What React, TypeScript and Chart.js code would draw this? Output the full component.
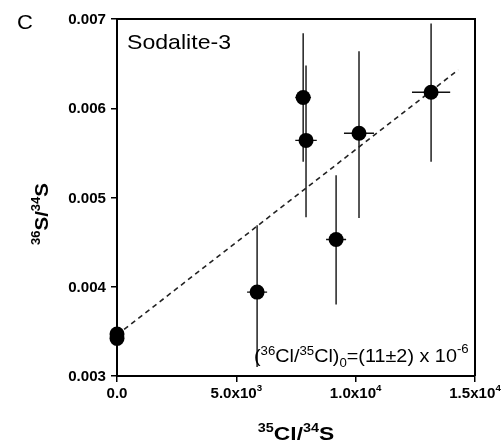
import React, { useEffect, useRef } from 'react';
import { Chart, registerables } from 'chart.js';

Chart.register(...registerables);

// ---- data ----
const sampleX = [0, 0, 5870, 7800, 7920, 9180, 10140, 13160];
const sampleY = [0.00347, 0.00342, 0.00394, 0.00612, 0.00564, 0.00453, 0.00572, 0.00618];
const xError = [0, 0, 420, 330, 450, 420, 630, 800];
const yLower = [0.00347, 0.00342, 0.0031, 0.0054, 0.00478, 0.0038, 0.00477, 0.0054];
const yUpper = [0.00347, 0.00342, 0.00469, 0.00684, 0.00648, 0.00525, 0.00664, 0.00695];
const fitX = [0, 14300];
const fitY = [0.00346, 0.00643];
const xTicks = [0, 5000, 10000, 15000];
const xTickBase = ['0.0', '5.0x10', '1.0x10', '1.5x10'];
const xTickExp = ['', '3', '4', '4'];
const yTicks = [0.003, 0.004, 0.005, 0.006, 0.007];
const yTickLabels = ['0.003', '0.004', '0.005', '0.006', '0.007'];

const FAMILY = '"Liberation Sans", Arial, Helvetica, sans-serif';

type Part = { t: string; size: number; bold?: boolean; dy?: number };

function fontOf(p: Part) {
  return `${p.bold ? 'bold ' : ''}${p.size}px ${FAMILY}`;
}

function drawParts(
  ctx: CanvasRenderingContext2D,
  parts: Part[],
  x: number,
  y: number,
  align: 'left' | 'center' | 'right',
  sx = 1,
  rot = 0
) {
  ctx.save();
  ctx.translate(x, y);
  if (rot) ctx.rotate(rot);
  ctx.scale(sx, 1);
  ctx.textBaseline = 'alphabetic';
  ctx.textAlign = 'left';
  ctx.fillStyle = '#000';
  let w = 0;
  for (const p of parts) {
    ctx.font = fontOf(p);
    w += ctx.measureText(p.t).width;
  }
  let cx = align === 'left' ? 0 : align === 'center' ? -w / 2 : -w;
  for (const p of parts) {
    ctx.font = fontOf(p);
    ctx.fillText(p.t, cx, p.dy || 0);
    cx += ctx.measureText(p.t).width;
  }
  ctx.restore();
}

const decoPlugin = {
  id: 'deco',
  beforeDatasetsDraw(chart: any) {
    const ctx: CanvasRenderingContext2D = chart.ctx;
    const xs = chart.scales.x;
    const ys = chart.scales.y;
    ctx.save();
    ctx.strokeStyle = '#111';
    ctx.lineWidth = 1.4;
    for (let i = 0; i < sampleX.length; i++) {
      const px = xs.getPixelForValue(sampleX[i]);
      const py = ys.getPixelForValue(sampleY[i]);
      ctx.beginPath();
      ctx.moveTo(px, ys.getPixelForValue(yUpper[i]));
      ctx.lineTo(px, ys.getPixelForValue(yLower[i]));
      if (xError[i] > 0) {
        ctx.moveTo(xs.getPixelForValue(sampleX[i] - xError[i]), py);
        ctx.lineTo(xs.getPixelForValue(sampleX[i] + xError[i]), py);
      }
      ctx.stroke();
    }
    ctx.restore();
  },
  afterDraw(chart: any) {
    const ctx: CanvasRenderingContext2D = chart.ctx;
    const { left, top, right, bottom } = chart.chartArea;
    const xs = chart.scales.x;
    const ys = chart.scales.y;
    ctx.save();
    ctx.strokeStyle = '#000';
    ctx.lineWidth = 2;
    ctx.beginPath();
    ctx.moveTo(left, top);
    ctx.lineTo(right, top);
    ctx.lineTo(right, bottom);
    ctx.stroke();
    ctx.restore();

    // y tick labels
    yTicks.forEach((v, i) => {
      const py = ys.getPixelForValue(v);
      drawParts(ctx, [{ t: yTickLabels[i], size: 14, bold: true }], left - 11, py + 5, 'right', 1.08);
    });
    // x tick labels
    xTicks.forEach((v, i) => {
      const px = xs.getPixelForValue(v);
      const parts: Part[] = [{ t: xTickBase[i], size: 14, bold: true }];
      if (xTickExp[i]) parts.push({ t: xTickExp[i], size: 9, bold: true, dy: -7 });
      drawParts(ctx, parts, px, bottom + 22, 'center', 1.08);
    });
    // axis titles
    const titleParts = (a: string, b: string, c: string, d: string): Part[] => [
      { t: a, size: 12, bold: true, dy: -8 },
      { t: b, size: 19, bold: true },
      { t: c, size: 12, bold: true, dy: -8 },
      { t: d, size: 19, bold: true },
    ];
    drawParts(ctx, titleParts('35', 'Cl/', '34', 'S'), 296, 440, 'center', 1.2);
    drawParts(ctx, titleParts('36', 'S/', '34', 'S'), 48, 214, 'center', 1.08, -Math.PI / 2);

    // panel letter and sample name
    drawParts(ctx, [{ t: 'C', size: 20 }], 17, 29, 'left', 1.1);
    drawParts(ctx, [{ t: 'Sodalite-3', size: 21 }], 127, 49, 'left', 1.1);

    // annotation
    drawParts(
      ctx,
      [
        { t: '(', size: 18 },
        { t: '36', size: 12, dy: -7 },
        { t: 'Cl/', size: 18 },
        { t: '35', size: 12, dy: -7 },
        { t: 'Cl)', size: 18 },
        { t: '0', size: 12, dy: 5 },
        { t: '=(11±2) x 10', size: 18 },
        { t: '-6', size: 12, dy: -9 },
      ],
      254,
      362,
      'left',
      1.1
    );
  },
};

export default function App() {
  const canvasRef = useRef<HTMLCanvasElement | null>(null);

  useEffect(() => {
    document.body.style.margin = '0';
    const canvas = canvasRef.current;
    if (!canvas) return;
    const chart = new Chart(canvas, {
      type: 'scatter',
      data: {
        datasets: [
          {
            label: 'Sodalite-3',
            data: sampleX.map((x, i) => ({ x, y: sampleY[i] })),
            pointRadius: 7.5,
            pointHoverRadius: 7.5,
            backgroundColor: '#000',
            borderColor: '#000',
            borderWidth: 0,
            showLine: false,
            clip: false as any,
          },
          {
            label: 'fit',
            data: fitX.map((x, i) => ({ x, y: fitY[i] })),
            showLine: true,
            pointRadius: 0,
            borderColor: '#222',
            borderWidth: 1.6,
            borderDash: [5, 4],
            fill: false,
          },
        ],
      },
      options: {
        responsive: false,
        animation: false,
        devicePixelRatio: 1,
        layout: { padding: { left: 111, top: 19, right: 27, bottom: 64 } },
        plugins: { legend: { display: false }, tooltip: { enabled: false } },
        scales: {
          x: {
            type: 'linear',
            min: 0,
            max: 15000,
            ticks: { stepSize: 5000, display: false },
            grid: { drawOnChartArea: false, drawTicks: true, tickLength: 6, color: '#000', lineWidth: 1.5 },
            border: { display: true, color: '#000', width: 2 },
          },
          y: {
            type: 'linear',
            min: 0.003,
            max: 0.007,
            ticks: { stepSize: 0.001, display: false },
            grid: { drawOnChartArea: false, drawTicks: true, tickLength: 6, color: '#000', lineWidth: 1.5 },
            border: { display: true, color: '#000', width: 2 },
          },
        },
      },
      plugins: [decoPlugin],
    });
    return () => chart.destroy();
  }, []);

  return (
    <div style={{ position: 'absolute', left: 0, top: 0, width: 502, height: 446, background: '#fff' }}>
      <canvas ref={canvasRef} width={502} height={446} />
    </div>
  );
}
